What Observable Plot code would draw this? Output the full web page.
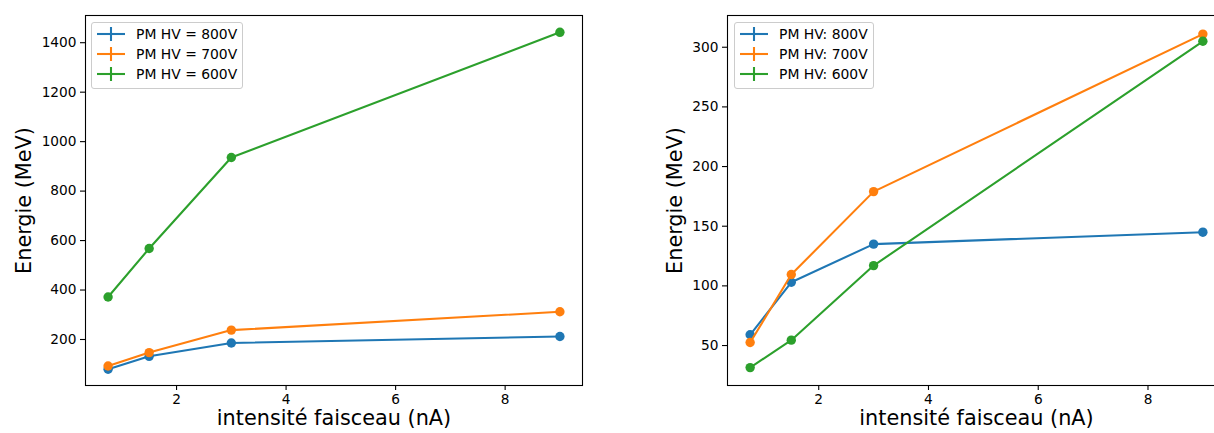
<!DOCTYPE html>
<html>
<head>
<meta charset="utf-8">
<script src="https://cdn.jsdelivr.net/npm/d3@7"></script>
<script src="https://cdn.jsdelivr.net/npm/@observablehq/plot@0.6"></script>
<style>
  html, body { margin: 0; padding: 0; background: #fff; overflow: hidden; }
  #wrap { position: relative; width: 1214px; height: 433px; overflow: hidden; font-family: "DejaVu Sans", sans-serif; color: #000; }
  .panel { position: absolute; top: 0; width: 600px; height: 433px; }
  .panel svg { max-width: none !important; }
  .legend { position: absolute; box-sizing: border-box; padding: 1px 5px 4px 5px; border: 1px solid #cccccc; border-radius: 3px; background: rgba(255,255,255,0.8); font-size: 13.9px; line-height: 20px; white-space: nowrap; }
  .legend .row { display: flex; align-items: center; height: 20px; }
  .legend svg { margin-right: 11px; overflow: visible; }
</style>
</head>
<body>
<div id="wrap"></div>
<script>
// ---- data ----
const intensities = [0.75, 1.5, 3, 9];               // intensité faisceau (nA)
const seriesLeft  = ["PM HV = 800V", "PM HV = 700V", "PM HV = 600V"];
const seriesRight = ["PM HV: 800V", "PM HV: 700V", "PM HV: 600V"];
const left800  = [80, 132, 186, 212];
const left700  = [93, 147, 238, 312];
const left600  = [372, 568, 936, 1442];
const right800 = [59, 103, 135, 145];
const right700 = [52.5, 109.5, 179, 311];
const right600 = [31.5, 54.5, 117, 305];
const colors = ["#1f77b4", "#ff7f0e", "#2ca02c"];
const xTicks = [2, 4, 6, 8];
const yTicksLeft  = [200, 400, 600, 800, 1000, 1200, 1400];
const yTicksRight = [50, 100, 150, 200, 250, 300];
const xLabel = "intensité faisceau (nA)";
const yLabel = "Energie (MeV)";

function makePanel({series, values, yDomain, yTicks, width, marginLeft, marginRight, yLabelDx}) {
  const marks = [];
  series.forEach((s, i) => {
    const rows = intensities.map((x, j) => ({series: s, x, y: values[i][j]}));
    marks.push(Plot.line(rows, {x: "x", y: "y", stroke: colors[i], strokeWidth: 2.08}));
    marks.push(Plot.dot(rows, {x: "x", y: "y", r: 4.7, fill: colors[i], stroke: "none"}));
  });
  return Plot.plot({
    width, height: 433,
    marginLeft, marginRight, marginTop: 15, marginBottom: 48,
    style: {fontFamily: "'DejaVu Sans', sans-serif", fontSize: "13.7px", color: "#000", background: "transparent", overflow: "visible", maxWidth: "none"},
    x: {domain: [0.3375, 9.4125]},
    y: {domain: yDomain},
    marks: [
      Plot.axisX({ticks: xTicks, tickFormat: d => String(d), tickSize: 5, tickPadding: 4, label: null, strokeWidth: 1.1}),
      Plot.axisY({ticks: yTicks, tickFormat: d => String(d), tickSize: 5, tickPadding: 4, label: null, strokeWidth: 1.1}),
      ...marks,
      Plot.frame({stroke: "#000", strokeWidth: 1.1}),
      Plot.text([xLabel], {frameAnchor: "bottom", dy: 39, fontSize: 20.8, fill: "#000", textAnchor: "middle"}),
      Plot.text([yLabel], {frameAnchor: "left", dx: yLabelDx, rotate: -90, fontSize: 20.8, fill: "#000", textAnchor: "middle"})
    ]
  });
}

function makeLegend(series, left) {
  const div = document.createElement("div");
  div.className = "legend";
  div.style.left = left + "px";
  div.style.top = "22px";
  series.forEach((s, i) => {
    const row = document.createElement("div");
    row.className = "row";
    row.innerHTML = `<svg width="28" height="14"><line x1="0" x2="28" y1="7" y2="7" stroke="${colors[i]}" stroke-width="2.08"/><line x1="14" x2="14" y1="0" y2="14" stroke="${colors[i]}" stroke-width="2.08"/></svg><span>${s}</span>`;
    div.appendChild(row);
  });
  return div;
}

const wrap = document.getElementById("wrap");

const leftPlot = makePanel({
  series: seriesLeft, values: [left800, left700, left600],
  yDomain: [14, 1510], yTicks: yTicksLeft,
  width: 600, marginLeft: 85, marginRight: 18, yLabelDx: -61.5
});
const lp = document.createElement("div"); lp.className = "panel"; lp.style.left = "0px";
lp.appendChild(leftPlot); wrap.appendChild(lp);

const rightPlot = makePanel({
  series: seriesRight, values: [right800, right700, right600],
  yDomain: [16.5, 326.6], yTicks: yTicksRight,
  width: 600, marginLeft: 87, marginRight: 15, yLabelDx: -52
});
const rp = document.createElement("div"); rp.className = "panel"; rp.style.left = "640px";
rp.appendChild(rightPlot); wrap.appendChild(rp);

wrap.appendChild(makeLegend(seriesLeft, 91));
wrap.appendChild(makeLegend(seriesRight, 734));
</script>
</body>
</html>
